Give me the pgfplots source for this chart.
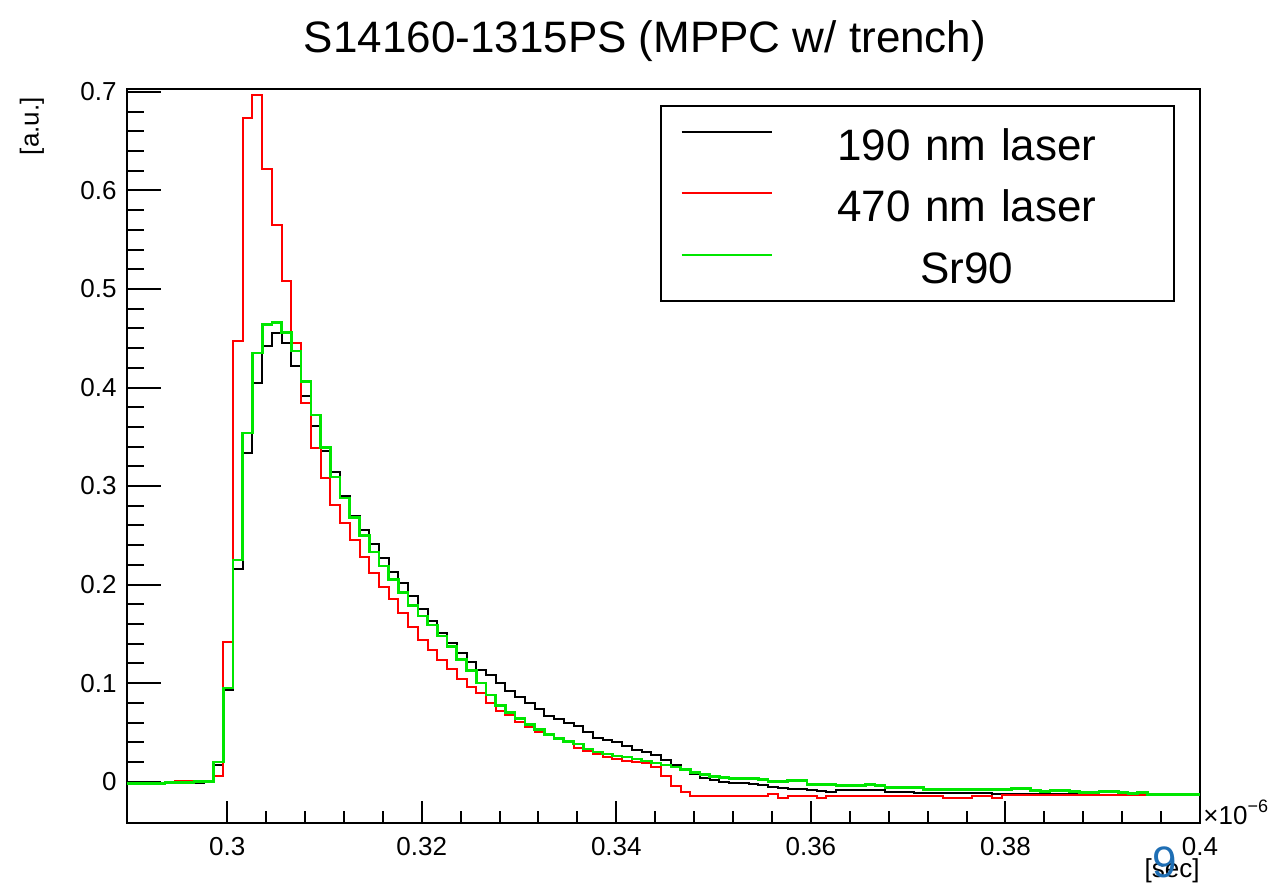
\documentclass[border=0pt]{standalone}
\usepackage{fontspec}
\setmainfont{Liberation Sans}
\usepackage{pgfplots}
\usepackage{pgfplotstable}
\pgfplotsset{compat=1.18}
\definecolor{rootgreen}{RGB}{0,230,0}
\definecolor{rootred}{RGB}{255,0,0}
\definecolor{slideblue}{RGB}{30,110,180}

\pgfplotstableread{
x black red green
0.2896 -0.002 -0.002 -0.002
0.2906 -0.002 -0.002 -0.002
0.2916 -0.002 -0.002 -0.002
0.2926 -0.002 -0.002 -0.002
0.2936 -0.001 0.000 -0.001
0.2946 -0.001 0.001 -0.001
0.2956 -0.001 0.001 -0.001
0.2966 -0.001 0.001 0.000
0.2976 0.000 0.001 0.000
0.2986 0.017 0.006 0.020
0.2996 0.093 0.142 0.095
0.3006 0.216 0.447 0.225
0.3016 0.334 0.674 0.354
0.3026 0.405 0.697 0.435
0.3036 0.442 0.622 0.464
0.3046 0.455 0.565 0.466
0.3056 0.445 0.508 0.456
0.3066 0.422 0.445 0.437
0.3076 0.391 0.384 0.406
0.3086 0.361 0.339 0.372
0.3096 0.336 0.308 0.339
0.3106 0.314 0.281 0.309
0.3116 0.290 0.263 0.288
0.3126 0.270 0.245 0.268
0.3136 0.255 0.228 0.250
0.3146 0.241 0.212 0.233
0.3156 0.227 0.198 0.219
0.3166 0.213 0.185 0.205
0.3176 0.202 0.171 0.192
0.3186 0.188 0.157 0.179
0.3196 0.175 0.144 0.168
0.3206 0.163 0.134 0.159
0.3216 0.151 0.123 0.148
0.3226 0.141 0.114 0.137
0.3236 0.131 0.104 0.124
0.3246 0.121 0.096 0.113
0.3256 0.113 0.090 0.100
0.3266 0.108 0.080 0.088
0.3276 0.100 0.072 0.077
0.3286 0.092 0.068 0.070
0.3296 0.086 0.061 0.064
0.3306 0.080 0.055 0.058
0.3316 0.074 0.050 0.053
0.3326 0.067 0.047 0.048
0.3336 0.064 0.044 0.044
0.3346 0.060 0.040 0.041
0.3356 0.056 0.034 0.038
0.3366 0.050 0.031 0.033
0.3376 0.044 0.028 0.030
0.3386 0.042 0.025 0.028
0.3396 0.040 0.023 0.026
0.3406 0.036 0.021 0.025
0.3416 0.032 0.020 0.023
0.3426 0.030 0.019 0.021
0.3436 0.027 0.015 0.019
0.3446 0.022 0.006 0.017
0.3456 0.017 -0.004 0.015
0.3466 0.013 -0.011 0.012
0.3476 0.008 -0.015 0.009
0.3486 0.004 -0.015 0.007
0.3496 0.002 -0.015 0.005
0.3506 0.000 -0.015 0.004
0.3516 -0.001 -0.015 0.003
0.3526 -0.001 -0.015 0.003
0.3536 -0.002 -0.015 0.003
0.3546 -0.003 -0.015 0.002
0.3556 -0.005 -0.013 0.000
0.3566 -0.006 -0.017 0.000
0.3576 -0.007 -0.015 0.001
0.3586 -0.007 -0.015 0.001
0.3596 -0.009 -0.015 -0.003
0.3606 -0.010 -0.017 -0.003
0.3616 -0.011 -0.015 -0.003
0.3626 -0.008 -0.015 -0.004
0.3636 -0.008 -0.015 -0.004
0.3646 -0.008 -0.015 -0.004
0.3656 -0.008 -0.015 -0.003
0.3666 -0.008 -0.015 -0.004
0.3676 -0.011 -0.015 -0.006
0.3686 -0.011 -0.015 -0.006
0.3696 -0.011 -0.015 -0.006
0.3706 -0.012 -0.015 -0.006
0.3716 -0.012 -0.015 -0.008
0.3726 -0.012 -0.015 -0.008
0.3736 -0.012 -0.017 -0.008
0.3746 -0.012 -0.017 -0.008
0.3756 -0.012 -0.017 -0.008
0.3766 -0.012 -0.015 -0.008
0.3776 -0.012 -0.015 -0.008
0.3786 -0.013 -0.017 -0.008
0.3796 -0.013 -0.014 -0.008
0.3806 -0.013 -0.014 -0.007
0.3816 -0.013 -0.014 -0.007
0.3826 -0.013 -0.014 -0.009
0.3836 -0.013 -0.014 -0.010
0.3846 -0.013 -0.014 -0.009
0.3856 -0.013 -0.014 -0.009
0.3866 -0.012 -0.014 -0.010
0.3876 -0.012 -0.014 -0.011
0.3886 -0.011 -0.014 -0.011
0.3896 -0.011 -0.014 -0.010
0.3906 -0.011 -0.014 -0.010
0.3916 -0.012 -0.014 -0.011
0.3926 -0.013 -0.014 -0.012
0.3936 -0.013 -0.014 -0.011
0.3946 -0.013 -0.014 -0.013
0.3956 -0.013 -0.014 -0.013
0.3966 -0.013 -0.014 -0.013
0.3976 -0.013 -0.014 -0.013
0.3986 -0.013 -0.014 -0.013
0.4000 -0.013 -0.014 -0.013
}\histdata

\begin{document}
\begin{tikzpicture}
\begin{axis}[
  scale only axis, width=536.5bp, height=367bp,
  at={(0,0)}, anchor=south west,
  xmin=0.2897, xmax=0.4, ymin=-0.042, ymax=0.703,
  axis line style={line width=1bp},
  tick align=inside, xtick pos=bottom, ytick pos=left,
  xtick={0.3,0.32,0.34,0.36,0.38,0.4},
  ytick={0,0.1,0.2,0.3,0.4,0.5,0.6,0.7},
  minor x tick num=4, minor y tick num=4,
  x tick style={/pgfplots/major tick length=11bp,/pgfplots/minor tick length=6bp},
  y tick style={/pgfplots/major tick length=17bp,/pgfplots/minor tick length=8.5bp},
  tick style={line width=1bp, black},
  scaled x ticks=false, scaled y ticks=false,
  /pgf/number format/assume math mode=true,
  ticklabel style={font=\fontsize{13bp}{15bp}\selectfont},
  xticklabel style={inner sep=0pt, yshift=-7bp},
  yticklabel style={inner sep=0pt, xshift=-5bp},
  legend style={at={(1,1)}, anchor=north east, xshift=-12.5bp, yshift=-8bp,
    draw=black, line width=1bp, fill=white, inner xsep=9.5bp, inner ysep=7bp,
    font=\fontsize{22bp}{26bp}\selectfont, row sep=8.75bp,
    nodes={text width=188bp, align=center, inner xsep=0pt, inner ysep=0pt, text height=20bp, text depth=2bp},
    /tikz/column sep=3bp},
  legend image code/.code={\draw[#1] (0bp,5bp) -- (45bp,5bp);},
  clip=true,
]
\addplot[const plot, black, line width=1bp] table[x=x, y=black] {\histdata};
\addlegendentry{190 nm laser}
\addplot[const plot, rootred, line width=1bp] table[x=x, y=red] {\histdata};
\addlegendentry{470 nm laser}
\addplot[const plot, rootgreen, line width=1.3bp] table[x=x, y=green] {\histdata};
\addlegendentry{Sr90}
\end{axis}
\node[anchor=base, font=\fontsize{22bp}{26bp}\selectfont] at (259bp,385bp) {S14160-1315PS (MPPC w/ trench)};
\node[rotate=90, anchor=east, font=\fontsize{13bp}{15bp}\selectfont, inner sep=0pt] at (-47.5bp,363bp) {[a.u.]};
\node[anchor=west, font=\fontsize{13bp}{15bp}\selectfont, inner sep=0pt] at (538bp,5.5bp) {×10\raisebox{0.45em}{\fontsize{9bp}{10bp}\selectfont −6}};
\node[anchor=east, font=\fontsize{13bp}{15bp}\selectfont, inner sep=0pt] at (536.5bp,-24bp) {[sec]};
\node[font=\fontsize{22bp}{26bp}\selectfont, text=slideblue, inner sep=0pt] at (519bp,-19.5bp) {9};
\pgfresetboundingbox
\path[use as bounding box] (-63.5bp,-33bp) rectangle (573.5bp,411.5bp);
\end{tikzpicture}
\end{document}
